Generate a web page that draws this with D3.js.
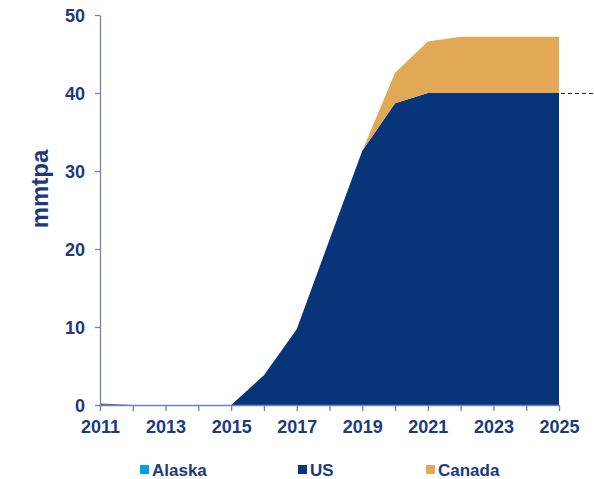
<!DOCTYPE html>
<html>
<head>
<meta charset="utf-8">
<script src="https://cdn.jsdelivr.net/npm/d3@7"></script>
<style>
body { margin: 0; background: #fff; }
text { font-family: "Liberation Sans", Arial, sans-serif; font-weight: bold; fill: #1c3a7c; }
</style>
</head>
<body>
<svg id="chart" width="594" height="479"></svg>
<script>
var years = [2011,2012,2013,2014,2015,2016,2017,2018,2019,2020,2021,2022,2023,2024,2025]
var alaska = [0.2,0,0,0,0,0,0,0,0,0,0,0,0,0,0]
var us = [0,0,0,0,0,3.8,9.7,21.2,32.6,38.7,40,40,40,40,40]
var canada = [0,0,0,0,0,0,0,0,0,3.9,6.6,7.2,7.2,7.2,7.2]
var seriesNames = ["Alaska","US","Canada"]
var colors = ["#00a3e0","#08357a","#e1a856"]
var yTicks = [0,10,20,30,40,50]
var xTickLabels = [2011,2013,2015,2017,2019,2021,2023,2025]
var capLine = 40

var svg = d3.select("#chart")
var x = d3.scaleLinear().domain([2011,2025]).range([100,559])
var y = d3.scaleLinear().domain([0,50]).range([405,15])

var rows = years.map(function(yr,i){ return {year:yr, Alaska:alaska[i], US:us[i], Canada:canada[i]} })
var stack = d3.stack().keys(seriesNames)(rows)

var area = d3.area()
    .x(function(d){ return x(d.data.year) })
    .y0(function(d){ return y(d[0]) })
    .y1(function(d){ return y(d[1]) })

svg.selectAll("path.layer")
    .data(stack)
    .enter().append("path")
    .attr("class","layer")
    .attr("d", area)
    .attr("fill", function(d,i){ return i == 0 ? "#6b5a55" : colors[i] })

// dashed capacity marker to the right
svg.append("line")
    .attr("x1", x(2025)+2).attr("x2", 594)
    .attr("y1", y(capLine)+0.5).attr("y2", y(capLine)+0.5)
    .attr("stroke","#222").attr("stroke-width",1.2)
    .attr("stroke-dasharray","4,3")

var axisColor = "#6f82b3"

var yAxis = svg.append("g").attr("transform","translate(100,0)")
    .call(d3.axisLeft(y).tickValues(yTicks).tickSize(5).tickSizeOuter(0))
yAxis.select(".domain").attr("stroke",axisColor).attr("stroke-width",1.3)
yAxis.selectAll(".tick line").attr("stroke",axisColor).attr("stroke-width",1.3)
yAxis.selectAll(".tick text").attr("x",-15).attr("dy","0.36em")
    .style("font-size","18px").attr("fill","#1c3a7c")

var xAxis = svg.append("g").attr("transform","translate(0,405)")
    .call(d3.axisBottom(x).tickValues(years).tickSize(6).tickSizeOuter(0)
        .tickFormat(function(d){ return xTickLabels.indexOf(d) >= 0 ? d : "" }))
xAxis.select(".domain").attr("stroke",axisColor).attr("stroke-width",1.3)
xAxis.selectAll(".tick line").attr("stroke",axisColor).attr("stroke-width",1.3)
xAxis.selectAll(".tick text").attr("y",12).attr("dy","0.9em")
    .style("font-size","18px").attr("fill","#1c3a7c")

svg.append("text")
    .attr("transform","translate(48,189) rotate(-90)")
    .attr("text-anchor","middle")
    .style("font-size","24px")
    .attr("fill","#0b2e6e")
    .text("mmtpa")

var legendX = [140,298,426]
var legend = svg.selectAll("g.leg")
    .data(seriesNames)
    .enter().append("g")
    .attr("class","leg")
    .attr("transform", function(d,i){ return "translate("+legendX[i]+",465)" })
legend.append("rect").attr("width",9).attr("height",9)
    .attr("fill", function(d,i){ return colors[i] })
legend.append("text").attr("x",12).attr("y",11)
    .style("font-size","17px")
    .text(function(d){ return d })
</script>
</body>
</html>
